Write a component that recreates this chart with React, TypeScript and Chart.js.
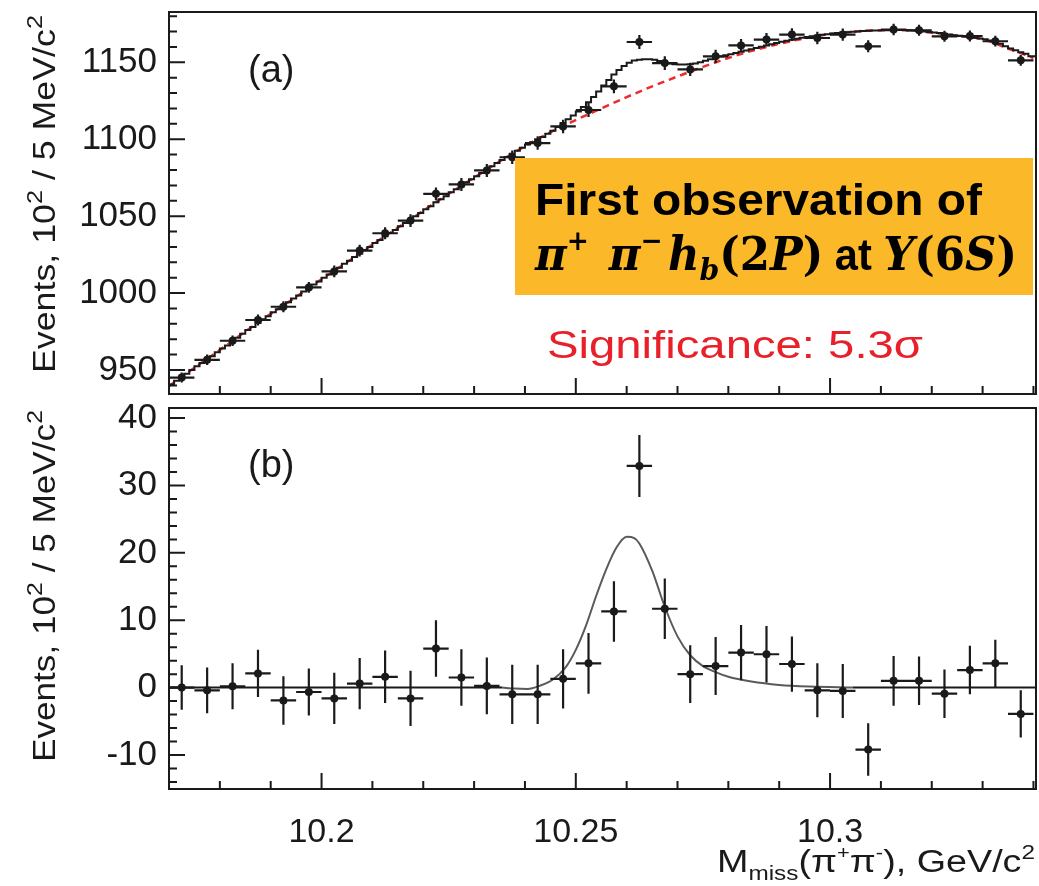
import React, { useEffect, useRef } from "react";
import { Chart, registerables } from "chart.js";

Chart.register(...registerables);

// ---------------- data ----------------
const binCenters = [
  10.1725, 10.1775, 10.1825, 10.1875, 10.1925, 10.1975, 10.2025, 10.2075, 10.2125, 10.2175,
  10.2225, 10.2275, 10.2325, 10.2375, 10.2425, 10.2475, 10.2525, 10.2575, 10.2625, 10.2675,
  10.2725, 10.2775, 10.2825, 10.2875, 10.2925, 10.2975, 10.3025, 10.3075, 10.3125, 10.3175,
  10.3225, 10.3275, 10.3325, 10.3375,
];
const binHalfWidth = 0.0025;

// panel (a): events per 5 MeV (x 10^2)
const topCounts = [
  945.1, 956.6, 969.0, 982.5, 991.1, 1003.7, 1014.1, 1027.6, 1038.9, 1047.1,
  1064.5, 1070.6, 1079.7, 1088.3, 1097.5, 1108.3, 1119.0, 1134.4, 1163.2, 1149.5,
  1145.4, 1153.9, 1161.0, 1164.8, 1168.0, 1165.8, 1168.0, 1160.4, 1171.3, 1170.8,
  1166.9, 1167.1, 1163.7, 1151.3,
];

// panel (b): background-subtracted
const residuals = [
  0.0, -0.4, 0.2, 2.1, -1.9, -0.65, -1.6, 0.6, 1.6, -1.6,
  5.8, 1.5, 0.25, -1.0, -1.0, 1.3, 3.6, 11.3, 32.9, 11.7,
  2.0, 3.2, 5.2, 4.95, 3.5, -0.4, -0.5, -9.2, 1.0, 1.0,
  -0.9, 2.6, 3.6, -3.9,
];

const errors = [
  3.3, 3.4, 3.4, 3.5, 3.6, 3.5, 3.8, 3.8, 3.9, 4.1,
  4.2, 4.2, 4.2, 4.4, 4.4, 4.4, 4.5, 4.5, 4.6, 4.5,
  4.3, 4.3, 4.1, 4.2, 4.1, 4.0, 4.0, 3.9, 3.7, 3.6,
  3.6, 3.6, 3.5, 3.5,
];

// full fit (fine-binned histogram, 1 MeV bins)
const fitBinStart = 10.17;
const fitBinWidth = 0.001;
const fitValues = [
  940.5, 943, 945.5, 947.5, 950, 952.5, 954.5, 957, 959, 961.5,
  964, 966, 968.5, 971, 973.5, 976, 978, 980.5, 983, 985,
  987.5, 989.5, 992, 994, 996.5, 998.5, 1001, 1003, 1005.5, 1007.5,
  1010, 1012, 1014.5, 1016.5, 1019, 1021, 1023.5, 1025.5, 1028, 1030,
  1032.5, 1034.5, 1037, 1039, 1041, 1043.5, 1045.5, 1048, 1050, 1052,
  1054.5, 1056.5, 1059, 1061, 1063, 1065.5, 1067.5, 1069.5, 1072, 1074,
  1076, 1078, 1080, 1082.5, 1084.5, 1086.5, 1088.5, 1090.5, 1092.5, 1094.5,
  1096.5, 1098, 1100, 1101.5, 1103.5, 1105.5, 1108, 1110.5, 1113, 1115.5,
  1118, 1121, 1124, 1127.5, 1131, 1135, 1138.5, 1142, 1145, 1147.6,
  1149.7, 1151.2, 1151.7, 1152, 1152, 1151.7, 1150.8, 1149.9, 1149.2, 1148.8,
  1148.5, 1148.6, 1148.8, 1149.3, 1150, 1151, 1152, 1153, 1153.8, 1154.6,
  1155.3, 1156.1, 1156.9, 1157.7, 1158.5, 1159.3, 1160.1, 1160.9, 1161.7, 1162.5,
  1163.3, 1164, 1164.6, 1165.3, 1165.9, 1166.4, 1166.9, 1167.4, 1167.9, 1168.3,
  1168.7, 1169, 1169.3, 1169.6, 1169.9, 1170.1, 1170.3, 1170.5, 1170.6, 1170.7,
  1170.8, 1170.9, 1170.9, 1171, 1171, 1170.9, 1170.7, 1170.4, 1170.1, 1169.7,
  1169.3, 1169, 1168.5, 1168, 1167.6, 1167.2, 1166.8, 1166.4, 1166, 1165.5,
  1165, 1164.2, 1163.3, 1162, 1160.5, 1159, 1157.8, 1156.6, 1155.5, 1154,
];

// background component (red dashed)
const bgX = [
  10.170, 10.175, 10.180, 10.185, 10.190, 10.195, 10.200, 10.205, 10.210, 10.215,
  10.220, 10.225, 10.230, 10.235, 10.240, 10.245, 10.250, 10.255, 10.260, 10.265,
  10.270, 10.275, 10.280, 10.285, 10.290, 10.295, 10.300, 10.305, 10.310, 10.315,
  10.320, 10.325, 10.330, 10.335, 10.340,
];
const bgY = [
  939.5, 951.5, 963, 975, 986.5, 997.5, 1009, 1020, 1031.5, 1042.5,
  1053.5, 1064.5, 1075, 1085.5, 1095.5, 1104.5, 1112.5, 1120, 1127.4, 1134.3,
  1140.8, 1147, 1152.8, 1157.8, 1162, 1165.6, 1168.4, 1170.1, 1170.8, 1170.9,
  1169.3, 1167.2, 1165, 1159, 1152.8,
];

// signal shape in panel (b)
const sigX = [
  10.2355, 10.238, 10.2405, 10.243, 10.2455, 10.248, 10.25, 10.252, 10.254, 10.256,
  10.258, 10.26, 10.2615, 10.2625, 10.265, 10.2675, 10.27, 10.2725, 10.275, 10.2775,
  10.28, 10.2845, 10.29, 10.296, 10.3045,
];
const sigY = [
  0, -0.15, -0.2, 0.3, 1.2, 3.0, 5.6, 9.2, 13.6, 17.6,
  20.8, 22.4, 22.2, 21.4, 17.4, 12.0, 7.6, 4.8, 3.2, 2.3,
  1.6, 0.9, 0.4, 0.15, 0,
];

// flat (zero) part of the fit in panel (b)
const flatLeftX = [10.17, 10.2355];
const flatRightX = [10.3045, 10.3405];

// axes
const xRange = [10.17, 10.3405];
const yTopRange = [934.4, 1182.7];
const yBotRange = [-15.05, 41.5];
const xTickLabels = [10.2, 10.25, 10.3];
const yTopTickLabels = [950, 1000, 1050, 1100, 1150];
const yBotTickLabels = [-10, 0, 10, 20, 30, 40];

// ---------------- styling helpers ----------------
const SANS = "'Liberation Sans', Arial, Helvetica, sans-serif";
const MATH = "'DejaVu Serif', 'Liberation Serif', serif";
const INK = "#1a1a1a";

const near = (v: number, m: number) => Math.abs(v / m - Math.round(v / m)) < 1e-6;
const inList = (list: number[], v: number) => list.some((t) => Math.abs(t - v) < 1e-9);

type Run = { t: string; font: string; dy?: number };
function drawRuns(
  ctx: CanvasRenderingContext2D,
  runs: Run[],
  x: number,
  y: number,
  color: string,
  targetW?: number,
  align: "left" | "right" | "center" = "left",
  rotate = 0
) {
  ctx.save();
  let total = 0;
  const widths = runs.map((r) => {
    ctx.font = r.font;
    const w = ctx.measureText(r.t).width;
    total += w;
    return w;
  });
  const sx = targetW ? targetW / total : 1;
  ctx.translate(x, y);
  if (rotate) ctx.rotate(rotate);
  const startX = align === "right" ? -total * sx : align === "center" ? (-total * sx) / 2 : 0;
  ctx.translate(startX, 0);
  ctx.scale(sx, 1);
  ctx.fillStyle = color;
  ctx.textAlign = "left";
  ctx.textBaseline = "alphabetic";
  let cx = 0;
  runs.forEach((r, i) => {
    ctx.font = r.font;
    ctx.fillText(r.t, cx, r.dy || 0);
    cx += widths[i];
  });
  ctx.restore();
}

const yTitleRuns: Run[] = [
  { t: "Events, 10", font: `31px ${SANS}` },
  { t: "2", font: `22px ${SANS}`, dy: -13 },
  { t: " / 5 MeV/c", font: `31px ${SANS}` },
  { t: "2", font: `22px ${SANS}`, dy: -13 },
];

const framePlugin = (xStep: number, xMajor: number, yStep: number, yMajor: number) => ({
  id: "frameTicks",
  afterDatasetsDraw(chart: any) {
    const { ctx, chartArea: a, scales } = chart;
    const xs = scales.x;
    const ys = scales.y;
    ctx.save();
    ctx.strokeStyle = INK;
    ctx.lineWidth = 2;
    ctx.beginPath();
    xs.ticks.forEach((t: any) => {
      if (!near(t.value, xStep)) return;
      const len = near(t.value, xMajor) ? 16 : 8;
      const px = xs.getPixelForValue(t.value);
      ctx.moveTo(px, a.bottom);
      ctx.lineTo(px, a.bottom - len);
    });
    ys.ticks.forEach((t: any) => {
      if (!near(t.value, yStep)) return;
      const len = near(t.value, yMajor) ? 16 : 8;
      const py = ys.getPixelForValue(t.value);
      ctx.moveTo(a.left, py);
      ctx.lineTo(a.left + len, py);
    });
    ctx.stroke();
    ctx.strokeRect(a.left, a.top, a.right - a.left, a.bottom - a.top);
    ctx.restore();
  },
});

const errorBarPlugin = (dsIndex: number, errs: number[], halfW: number) => ({
  id: "errorBars",
  afterDatasetsDraw(chart: any) {
    const { ctx, scales } = chart;
    const xs = scales.x;
    const ys = scales.y;
    const pts = chart.data.datasets[dsIndex].data;
    ctx.save();
    ctx.strokeStyle = INK;
    ctx.lineWidth = 2.2;
    ctx.beginPath();
    pts.forEach((p: any, i: number) => {
      const x = xs.getPixelForValue(p.x);
      const y = ys.getPixelForValue(p.y);
      ctx.moveTo(x, ys.getPixelForValue(p.y - errs[i]));
      ctx.lineTo(x, ys.getPixelForValue(p.y + errs[i]));
      ctx.moveTo(xs.getPixelForValue(p.x - halfW), y);
      ctx.lineTo(xs.getPixelForValue(p.x + halfW), y);
    });
    ctx.stroke();
    ctx.restore();
  },
});

const topNotes = {
  id: "topNotes",
  afterDraw(chart: any) {
    const ctx = chart.ctx as CanvasRenderingContext2D;
    drawRuns(ctx, yTitleRuns, 55, 194, INK, 358, "center", -Math.PI / 2);
    drawRuns(ctx, [{ t: "(a)", font: `38px ${SANS}` }], 248, 82, INK);
    ctx.save();
    ctx.fillStyle = "#FBB829";
    ctx.fillRect(515, 158, 518, 137);
    ctx.restore();
    drawRuns(ctx, [{ t: "First observation of", font: `bold 44px ${SANS}` }], 535, 215, "#000", 447);
    const bi = `italic bold 46px ${MATH}`;
    const b = `bold 46px ${MATH}`;
    const sup = `bold 28px ${MATH}`;
    drawRuns(
      ctx,
      [
        { t: "π", font: bi },
        { t: "+", font: sup, dy: -20 },
        { t: "  ", font: `bold 30px ${MATH}` },
        { t: "π", font: bi },
        { t: "−", font: sup, dy: -20 },
        { t: " ", font: `bold 16px ${MATH}` },
        { t: "h", font: bi },
        { t: "b", font: `italic bold 30px ${MATH}`, dy: 10 },
        { t: "(2", font: b },
        { t: "P", font: bi },
        { t: ")", font: b },
        { t: " at ", font: `bold 44px ${SANS}` },
        { t: "Υ", font: bi },
        { t: "(6", font: b },
        { t: "S", font: bi },
        { t: ")", font: b },
      ],
      535,
      270,
      "#000",
      482
    );
    drawRuns(ctx, [{ t: "Significance: 5.3σ", font: `38px ${SANS}` }], 547, 358, "#E8202A", 376);
  },
};

const bottomNotes = {
  id: "bottomNotes",
  afterDraw(chart: any) {
    const ctx = chart.ctx as CanvasRenderingContext2D;
    drawRuns(ctx, yTitleRuns, 55, 186, INK, 352, "center", -Math.PI / 2);
    drawRuns(ctx, [{ t: "(b)", font: `38px ${SANS}` }], 248, 77, INK);
    const f = `31px ${SANS}`;
    const s = `18px ${SANS}`;
    drawRuns(
      ctx,
      [
        { t: "M", font: f },
        { t: "miss", font: `20px ${SANS}`, dy: 8 },
        { t: "(π", font: f },
        { t: "+", font: s, dy: -13 },
        { t: "π", font: f },
        { t: "-", font: s, dy: -13 },
        { t: "), GeV/c", font: f },
        { t: "2", font: `20px ${SANS}`, dy: -13 },
      ],
      1035,
      472,
      INK,
      318,
      "right"
    );
  },
};

function baseOptions() {
  return {
    responsive: false,
    maintainAspectRatio: false,
    animation: false as const,
    events: [] as any[],
    plugins: { legend: { display: false }, tooltip: { enabled: false } },
  };
}

export default function App() {
  const topRef = useRef<HTMLCanvasElement>(null);
  const botRef = useRef<HTMLCanvasElement>(null);

  useEffect(() => {
    const fitData = fitValues.map((y, i) => ({ x: fitBinStart + i * fitBinWidth, y }));
    fitData.push({ x: xRange[1], y: fitValues[fitValues.length - 1] });

    const top = new Chart(topRef.current as HTMLCanvasElement, {
      type: "scatter",
      data: {
        datasets: [
          {
            label: "data",
            data: binCenters.map((x, i) => ({ x, y: topCounts[i] })),
            pointRadius: 4,
            pointBackgroundColor: INK,
            pointBorderWidth: 0,
            order: 0,
          },
          {
            label: "fit",
            data: fitData,
            showLine: true,
            stepped: "before",
            borderColor: INK,
            borderWidth: 2,
            pointRadius: 0,
            order: 1,
          },
          {
            label: "background",
            data: bgX.map((x, i) => ({ x, y: bgY[i] })),
            showLine: true,
            cubicInterpolationMode: "monotone",
            borderColor: "#ee2a2a",
            borderWidth: 2.5,
            borderDash: [7, 5],
            pointRadius: 0,
            order: 2,
          },
        ],
      } as any,
      options: {
        ...baseOptions(),
        layout: { padding: { top: 12, right: 3, bottom: 0, left: 0 }, autoPadding: false },
        scales: {
          x: {
            type: "linear",
            min: xRange[0],
            max: xRange[1],
            ticks: { display: false, stepSize: 0.01, includeBounds: false, autoSkip: false },
            grid: { display: false, drawTicks: false },
            border: { display: false },
            afterFit: (s: any) => {
              s.height = 6;
              s.paddingLeft = 0;
              s.paddingRight = 0;
            },
          },
          y: {
            type: "linear",
            min: yTopRange[0],
            max: yTopRange[1],
            ticks: {
              stepSize: 10,
              includeBounds: false,
              autoSkip: false,
              padding: 12,
              color: INK,
              font: { family: SANS, size: 35 },
              callback: (v: any) => (inList(yTopTickLabels, Number(v)) ? String(v) : ""),
            },
            grid: { display: false, drawTicks: false },
            border: { display: false },
            afterFit: (s: any) => {
              s.width = 169;
              s.paddingTop = 0;
              s.paddingBottom = 0;
            },
          },
        },
      } as any,
      plugins: [framePlugin(0.01, 0.05, 10, 50), errorBarPlugin(0, errors, binHalfWidth), topNotes],
    });

    const bot = new Chart(botRef.current as HTMLCanvasElement, {
      type: "scatter",
      data: {
        datasets: [
          {
            label: "data",
            data: binCenters.map((x, i) => ({ x, y: residuals[i] })),
            pointRadius: 4,
            pointBackgroundColor: INK,
            pointBorderWidth: 0,
            order: 0,
          },
          {
            label: "signal",
            data: sigX.map((x, i) => ({ x, y: sigY[i] })),
            showLine: true,
            cubicInterpolationMode: "monotone",
            borderColor: "#5a5a5a",
            borderWidth: 2,
            pointRadius: 0,
            order: 1,
          },
          {
            label: "flatL",
            data: flatLeftX.map((x) => ({ x, y: 0 })),
            showLine: true,
            borderColor: INK,
            borderWidth: 2,
            pointRadius: 0,
            order: 2,
          },
          {
            label: "flatR",
            data: flatRightX.map((x) => ({ x, y: 0 })),
            showLine: true,
            borderColor: INK,
            borderWidth: 2,
            pointRadius: 0,
            order: 2,
          },
        ],
      } as any,
      options: {
        ...baseOptions(),
        layout: { padding: { top: 8, right: 3, bottom: 0, left: 0 }, autoPadding: false },
        scales: {
          x: {
            type: "linear",
            min: xRange[0],
            max: xRange[1],
            ticks: {
              stepSize: 0.01,
              includeBounds: false,
              autoSkip: false,
              maxRotation: 0,
              minRotation: 0,
              padding: 23,
              color: INK,
              font: { family: SANS, size: 34 },
              callback: (v: any) => (inList(xTickLabels, Number(v)) ? String(v) : ""),
            },
            grid: { display: false, drawTicks: false },
            border: { display: false },
            afterFit: (s: any) => {
              s.height = 97;
              s.paddingLeft = 0;
              s.paddingRight = 0;
            },
          },
          y: {
            type: "linear",
            min: yBotRange[0],
            max: yBotRange[1],
            ticks: {
              stepSize: 2,
              includeBounds: false,
              autoSkip: false,
              padding: 12,
              color: INK,
              font: { family: SANS, size: 35 },
              callback: (v: any) => (inList(yBotTickLabels, Number(v)) ? String(v) : ""),
            },
            grid: { display: false, drawTicks: false },
            border: { display: false },
            afterFit: (s: any) => {
              s.width = 169;
              s.paddingTop = 0;
              s.paddingBottom = 0;
            },
          },
        },
      } as any,
      plugins: [framePlugin(0.01, 0.05, 2, 10), errorBarPlugin(0, errors, binHalfWidth), bottomNotes],
    });

    return () => {
      top.destroy();
      bot.destroy();
    };
  }, []);

  return (
    <div style={{ position: "absolute", left: 0, top: 0, width: 1039, height: 886, background: "#fff" }}>
      <canvas
        ref={topRef}
        width={1039}
        height={400}
        style={{ position: "absolute", left: 0, top: 0, width: 1039, height: 400 }}
      />
      <canvas
        ref={botRef}
        width={1039}
        height={486}
        style={{ position: "absolute", left: 0, top: 400, width: 1039, height: 486 }}
      />
    </div>
  );
}
